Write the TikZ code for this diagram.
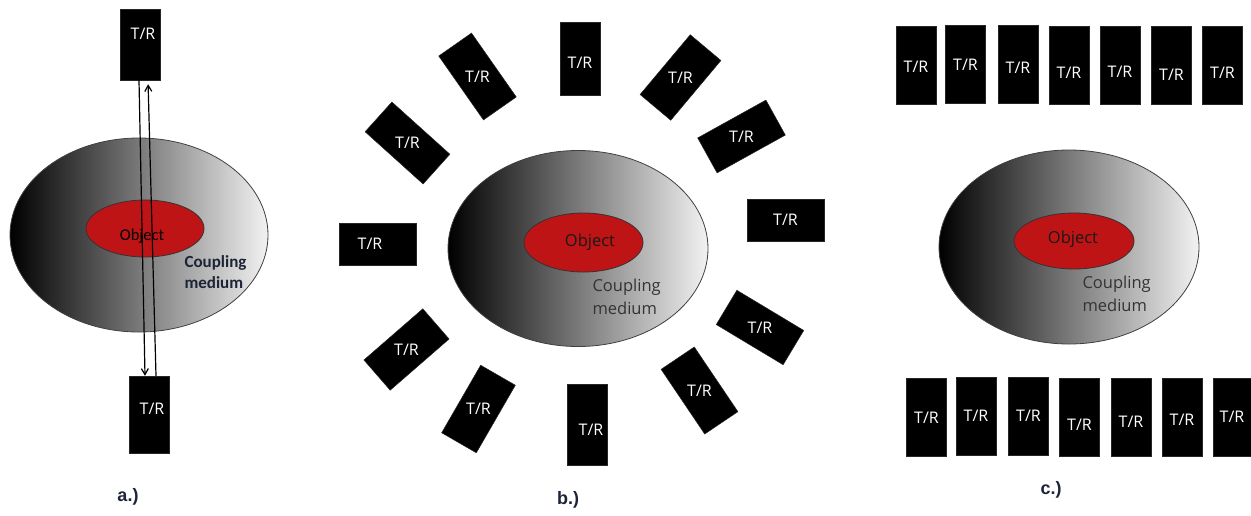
\documentclass[tikz,border=0pt]{standalone}
\usepackage{fontspec}
\setmainfont{Open Sans}
\newfontfamily\carlito{Carlito}
\newfontfamily\arialf{Liberation Sans}
\usetikzlibrary{shapes.geometric,arrows.meta}
\definecolor{objred}{RGB}{190,20,22}
\definecolor{navy}{RGB}{28,36,56}
\tikzset{
  trbox/.style={fill=black, draw=black!85, line width=0.5pt, minimum width=40pt, minimum height=78pt, inner sep=0pt, text=white, font=\fontsize{16}{19}\selectfont},
  trh/.style={trbox, minimum width=77pt, minimum height=42pt},
  trtext/.style={text=white, font=\fontsize{16}{19}\selectfont, inner sep=0pt},
  medium/.style={ellipse, draw=black!75, line width=0.8pt, left color=black, right color=black!5, minimum width=260pt, minimum height=196pt, inner sep=0pt},
  object/.style={ellipse, draw=black!80, line width=0.8pt, fill=objred, minimum width=120pt, minimum height=57pt, inner sep=0pt},
  objtext/.style={text=black!90, font=\fontsize{16.5}{19}\selectfont},
  medtext/.style={text=black!80, align=left, anchor=west, font=\fontsize{16.5}{23}\selectfont},
  caption/.style={font=\arialf\bfseries\fontsize{18}{20}\selectfont, text=navy},
  wave/.style={draw=black, line width=1.2pt, -{Straight Barb[length=6pt,width=7pt]}},
}
\begin{document}
\begin{tikzpicture}[x=1pt,y=-1pt]
\useasboundingbox (0,0) rectangle (1251,515);

% ---------------- panel a ----------------
\node[medium, minimum width=258pt, minimum height=194pt] (ma) at (139,235) {};
\node[object, minimum width=118pt, minimum height=57pt] (oa) at (145,228.5) {};
\node[objtext, text=black, font=\carlito\fontsize{16.5}{19}\selectfont] (oat) at (142,236) {Object};
\node[medtext, text=navy, font=\carlito\bfseries\fontsize{17}{21}\selectfont] (mat) at (181,272.5) {Coupling\\medium};
\node[trbox, minimum height=71pt, label={[trtext,xshift=3pt,yshift=11pt]center:T/R}] (ta) at (140,44.5) {};
\node[trbox, minimum height=77pt, label={[trtext,xshift=3pt,yshift=6pt]center:T/R}] (tb) at (149,414.5) {};
\draw[wave] ([xshift=-1pt]ta.south) -- ([xshift=-4pt]tb.north);
\draw[wave, shorten >=4pt] ([xshift=7pt]tb.north) -- ([xshift=8pt]ta.south);
\node[caption] (capa) at (128,497) {a.)};

% ---------------- panel b ----------------
\node[medium] (mb) at (578,248.5) {};
\node[object, minimum width=119pt, minimum height=59pt] (ob) at (583.5,242.5) {};
\node[objtext] (obt) at (590,242) {Object};
\node[medtext] (mbt) at (589,297) {Coupling\\medium};

\node[trbox, minimum height=73pt, label={[trtext,yshift=-4pt]center:T/R}] (b1) at (580,58.5) {};
\node[trbox, rotate=35] (b2) at (477.5,76.5) {\rotatebox{-35}{T/R}};
\node[trbox, rotate=48] (b3) at (407.5,143) {\rotatebox{-48}{T/R}};
\node[trh, label={[trtext,xshift=-8pt]center:T/R}] (b4) at (378,244) {};
\node[trbox, rotate=-49] (b5) at (406.5,349.5) {\rotatebox{49}{T/R}};
\node[trbox, rotate=-30] (b6) at (478.5,409) {\rotatebox{30}{T/R}};
\node[trbox, minimum height=81pt, label={[trtext,xshift=4pt,yshift=-5pt]center:T/R}] (b7) at (587,424.5) {};
\node[trbox, rotate=34] (b8) at (699.5,390.5) {\rotatebox{-34}{T/R}};
\node[trbox, rotate=59] (b9) at (760,327.5) {\rotatebox{-59}{T/R}};
\node[trh] (b10) at (785.5,220) {T/R};
\node[trbox, rotate=-61] (b11) at (741.5,136.5) {\rotatebox{61}{T/R}};
\node[trbox, rotate=-40] (b12) at (680.5,77.5) {\rotatebox{40}{T/R}};
\node[caption] (capb) at (568,500) {b.)};

% ---------------- panel c ----------------
\node[medium, minimum height=194pt] (mc) at (1069,247) {};
\node[object, minimum height=56pt] (oc) at (1074,241) {};
\node[objtext] (oct) at (1073,239) {Object};
\node[medtext] (mct) at (1079,293.5) {Coupling\\medium};

\node[trbox, label={[trtext,yshift=-2pt]center:T/R}] (c1) at (916,65) {};
\node[trbox, label={[trtext,yshift=-1pt]center:T/R}] (c2) at (965.5,64) {};
\node[trbox, label={[trtext,yshift=-4pt]center:T/R}] (c3) at (1018,64) {};
\node[trbox, label={[trtext,yshift=-8pt]center:T/R}] (c4) at (1069,65) {};
\node[trbox, label={[trtext,yshift=-7pt]center:T/R}] (c5) at (1120,65) {};
\node[trbox, label={[trtext,yshift=-10pt]center:T/R}] (c6) at (1171.5,65) {};
\node[trbox, label={[trtext,yshift=-8pt]center:T/R}] (c7) at (1222.5,65) {};

\node[trbox, label={[trtext,yshift=-1pt]center:T/R}] (d1) at (926.5,417) {};
\node[trbox, label={[trtext]center:T/R}] (d2) at (976,416) {};
\node[trbox, label={[trtext]center:T/R}] (d3) at (1028.5,416) {};
\node[trbox, label={[trtext,yshift=-8pt]center:T/R}] (d4) at (1079.5,417) {};
\node[trbox, label={[trtext,yshift=-5pt]center:T/R}] (d5) at (1131,417) {};
\node[trbox, label={[trtext,yshift=-3pt]center:T/R}] (d6) at (1182,417) {};
\node[trbox, label={[trtext,xshift=-1pt]center:T/R}] (d7) at (1233,417) {};
\node[caption] (capc) at (1051,490) {c.)};
\end{tikzpicture}
\end{document}
